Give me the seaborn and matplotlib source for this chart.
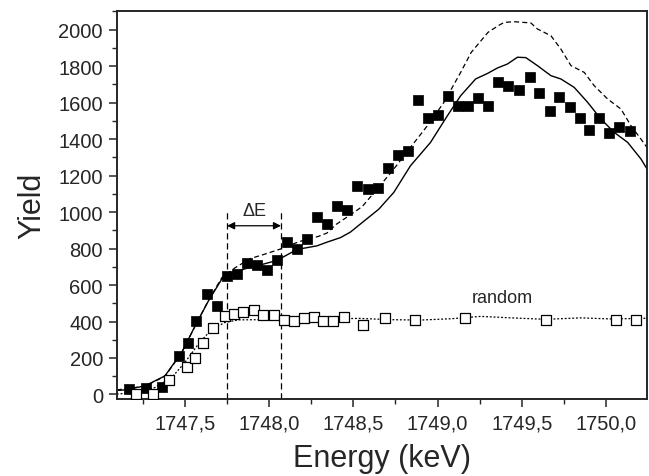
import numpy as np
import pandas as pd
import matplotlib
matplotlib.use('Agg')
import matplotlib.pyplot as plt
from matplotlib.ticker import MultipleLocator, FuncFormatter
import seaborn as sns

# =============================================================================
# Data
# =============================================================================
# measured yield, aligned (filled squares)
aligned_energy = [1747.167, 1747.266, 1747.365, 1747.466, 1747.516, 1747.565, 1747.629,
                  1747.689, 1747.748, 1747.808, 1747.867, 1747.927, 1747.986, 1748.046,
                  1748.105, 1748.165, 1748.224, 1748.286, 1748.345, 1748.405, 1748.464,
                  1748.524, 1748.585, 1748.645, 1748.707, 1748.766, 1748.826, 1748.885,
                  1748.945, 1749.004, 1749.064, 1749.123, 1749.180, 1749.240, 1749.300,
                  1749.360, 1749.420, 1749.484, 1749.546, 1749.605, 1749.665, 1749.720,
                  1749.784, 1749.843, 1749.900, 1749.960, 1750.020, 1750.080, 1750.140]
aligned_yield = [29, 33, 42, 212, 281, 402, 550,
                 483, 651, 662, 720, 711, 684, 735,
                 834, 795, 852, 973, 932, 1033, 1011,
                 1141, 1126, 1132, 1241, 1314, 1335, 1616,
                 1514, 1534, 1635, 1583, 1583, 1624, 1583,
                 1715, 1693, 1667, 1742, 1653, 1554, 1632,
                 1574, 1514, 1452, 1514, 1435, 1465, 1444]

# measured yield, random direction (open squares)
random_energy = [1747.207, 1747.308, 1747.407, 1747.510, 1747.560, 1747.609, 1747.668,
                 1747.738, 1747.788, 1747.847, 1747.907, 1747.966, 1748.026, 1748.085,
                 1748.145, 1748.204, 1748.264, 1748.320, 1748.380, 1748.446, 1748.560,
                 1748.685, 1748.865, 1749.163, 1749.645, 1750.060, 1750.180]
random_yield = [2, 2, 80, 152, 200, 281, 362,
                431, 440, 452, 462, 433, 433, 411,
                402, 420, 424, 402, 402, 424, 382,
                420, 411, 420, 411, 411, 411]

# simulation 1 (solid line)
sim1_energy = [1747.095, 1747.143, 1747.262, 1747.381, 1747.480, 1747.560, 1747.639,
               1747.718, 1747.800, 1747.860, 1747.927, 1748.046, 1748.165, 1748.284,
               1748.343, 1748.423, 1748.482, 1748.542, 1748.651, 1748.740, 1748.839,
               1748.958, 1749.058, 1749.137, 1749.226, 1749.296, 1749.355, 1749.415,
               1749.474, 1749.524, 1749.593, 1749.673, 1749.732, 1749.811, 1749.891,
               1749.970, 1750.049, 1750.129, 1750.208, 1750.250]
sim1_yield = [22, 25, 47, 102, 230, 376, 513,
              632, 672, 690, 705, 735, 795, 815,
              835, 860, 890, 935, 1016, 1108, 1254,
              1382, 1528, 1638, 1730, 1760, 1790, 1812,
              1849, 1847, 1803, 1748, 1730, 1684, 1602,
              1510, 1437, 1382, 1291, 1227]

# simulation 2 (dashed line)
sim2_energy = [1747.095, 1747.262, 1747.381, 1747.480, 1747.560, 1747.639, 1747.718,
               1747.798, 1747.887, 1747.976, 1748.065, 1748.155, 1748.224, 1748.290,
               1748.343, 1748.400, 1748.482, 1748.552, 1748.641, 1748.740, 1748.839,
               1748.939, 1749.038, 1749.137, 1749.200, 1749.300, 1749.360, 1749.395,
               1749.454, 1749.554, 1749.593, 1749.673, 1749.732, 1749.792, 1749.871,
               1749.930, 1750.010, 1750.089, 1750.149, 1750.208, 1750.250]
sim2_yield = [25, 45, 100, 228, 375, 515, 640,
              695, 745, 770, 797, 830, 852, 866,
              885, 934, 985, 1030, 1126, 1236, 1355,
              1473, 1602, 1766, 1876, 1986, 2022, 2040,
              2044, 2037, 2004, 1967, 1894, 1803, 1766,
              1693, 1620, 1565, 1473, 1400, 1346]

# simulation for random direction (dotted line)
sim_rand_energy = [1747.095, 1747.202, 1747.321, 1747.421, 1747.500, 1747.579, 1747.659,
                   1747.738, 1747.817, 1747.946, 1748.125, 1748.300, 1748.540, 1748.720,
                   1748.900, 1749.077, 1749.256, 1749.435, 1749.643, 1749.851, 1750.030,
                   1750.250]
sim_rand_yield = [2, 11, 38, 93, 176, 276, 358,
                  395, 409, 410, 408, 414, 417, 410,
                  408, 415, 428, 420, 412, 420, 414,
                  418]

# energy window
window_left = 1747.75
window_right = 1748.07

# =============================================================================
# Plot
# =============================================================================
sns.set_style('ticks')
plt.rcParams['font.family'] = ['Liberation Sans', 'DejaVu Sans']

fig = plt.figure(figsize=(6.49, 4.77), dpi=100)
ax = fig.add_axes([0.180, 0.161, 0.817, 0.814])

sns.lineplot(x=sim1_energy, y=sim1_yield, ax=ax, color='black', lw=1.0, sort=False)
sns.lineplot(x=sim2_energy, y=sim2_yield, ax=ax, color='black', lw=0.9, sort=False,
             linestyle=(0, (4, 2.5)))
sns.lineplot(x=sim_rand_energy, y=sim_rand_yield, ax=ax, color='black', lw=0.9, sort=False,
             linestyle=(0, (1.5, 1.5)))

sns.scatterplot(x=aligned_energy, y=aligned_yield, ax=ax, marker='s', s=62,
                color='black', edgecolor='black', linewidth=0.5, zorder=3)
sns.scatterplot(x=random_energy, y=random_yield, ax=ax, marker='s', s=48,
                facecolor='white', edgecolor='black', linewidth=0.9, zorder=3)

# energy window
for xv in [window_left, window_right]:
    ax.plot([xv, xv], [-26, 1010], color='black', lw=0.9, linestyle=(0, (5, 3)))
ax.annotate('', xy=(window_left, 925), xytext=(window_right, 925),
            arrowprops=dict(arrowstyle='<|-|>', color='black', lw=0.9,
                            mutation_scale=11, shrinkA=0, shrinkB=0))
ax.text((window_left + window_right) / 2, 960, '\u0394E', ha='center', va='bottom',
        fontsize=13)
ax.text(1749.385, 532, 'random', ha='center', va='center', fontsize=13)

ax.set_xlim(1747.095, 1750.244)
ax.set_ylim(-26, 2103)

ax.xaxis.set_major_locator(MultipleLocator(0.5))
ax.xaxis.set_minor_locator(MultipleLocator(0.25))
ax.yaxis.set_major_locator(MultipleLocator(200))
ax.yaxis.set_minor_locator(MultipleLocator(100))
ax.xaxis.set_major_formatter(FuncFormatter(lambda v, p: f'{v:.1f}'.replace('.', ',')))

ax.tick_params(which='major', direction='out', length=6, width=1.1, labelsize=14.5, pad=4)
ax.tick_params(which='minor', direction='out', length=3.5, width=1.0)
for side in ['top', 'right', 'left', 'bottom']:
    ax.spines[side].set_visible(True)
    ax.spines[side].set_linewidth(1.4)

ax.set_xlabel('Energy (keV)', fontsize=22, labelpad=8)
ax.set_ylabel('Yield', fontsize=22, labelpad=8)

fig.savefig('out.png', dpi=100)
